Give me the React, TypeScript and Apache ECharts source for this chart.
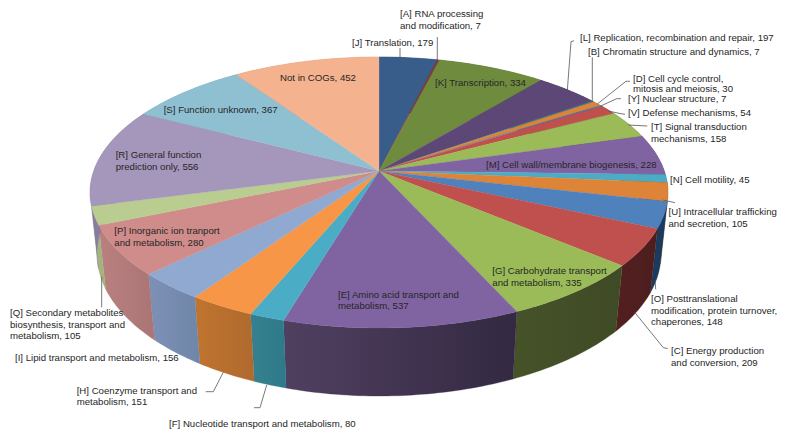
import React, { useEffect, useRef } from "react";
import * as echarts from "echarts";

const categories = [
  "[J] Translation", "[A] RNA processing\nand modification", "[K] Transcription",
  "[L] Replication, recombination and repair", "[B] Chromatin structure and dynamics",
  "[D] Cell cycle control,\nmitosis and meiosis", "[Y] Nuclear structure", "[V] Defense mechanisms",
  "[T] Signal transduction\nmechanisms", "[M] Cell wall/membrane biogenesis", "[N] Cell motility",
  "[U] Intracellular trafficking\nand secretion", "[O] Posttranslational\nmodification, protein turnover,\nchaperones",
  "[C] Energy production\nand conversion", "[G] Carbohydrate transport\nand metabolism",
  "[E] Amino acid transport and\nmetabolism", "[F] Nucleotide transport and metabolism",
  "[H] Coenzyme transport and\nmetabolism", "[I] Lipid transport and metabolism",
  "[P] Inorganic ion tranport\nand metabolism", "[Q] Secondary metabolites\nbiosynthesis, transport and\nmetabolism",
  "[R] General function\nprediction only", "[S] Function unknown", "Not in COGs",
];
const values = [179, 7, 334, 197, 7, 30, 7, 54, 158, 228, 45, 105, 148, 209, 335, 537, 80, 151, 156, 280, 105, 556, 367, 452];

const topColors = [
  "#385d8a", "#8c3836", "#6f8b3e", "#5c4776", "#357e92", "#d9843b", "#4f81bd", "#c0504d",
  "#9bbb59", "#8064a2", "#4bacc6", "#dd8439", "#4f81bd", "#c0504d", "#9bbb59", "#8064a2",
  "#4bacc6", "#f79646", "#8fa9d0", "#cf8c8a", "#b9cd91", "#a596bb", "#8fc0d2", "#f5b28f",
];
// Side-wall shading: left colour, right colour.
const wallColors = [
  ["#24405f", "#24405f"], ["#5e2524", "#5e2524"], ["#4a5d29", "#4a5d29"], ["#3d2f4f", "#3d2f4f"],
  ["#235462", "#235462"], ["#915827", "#915827"], ["#2c4d75", "#2c4d75"], ["#772c2a", "#772c2a"],
  ["#5f7530", "#5f7530"], ["#4d3b62", "#4d3b62"], ["#276a7c", "#276a7c"], ["#8a5020", "#8a5020"],
  ["#1b3a5d", "#1b3a5d"], ["#531f1f", "#4d1e1e"], ["#465329", "#3f4a26"], ["#504060", "#332942"],
  ["#35818f", "#2f7a8a"], ["#c0742f", "#b06a2e"], ["#7d91b6", "#6f86a8"], ["#ba8080", "#ab7575"],
  ["#a5b47f", "#a2b37d"], ["#8a7ba0", "#8a7ba0"], ["#6fa0b2", "#6fa0b2"], ["#d0906e", "#d0906e"],
];

const labelLayout: [number, number, number?][] = [
  [352, 42.5], [400, 14], [435, 83], [580, 38], [588, 52], [633, 78.7, 10], [628, 99], [628, 112.7],
  [651, 126.7], [486, 164.7], [670, 180], [668.5, 212], [651, 298.7], [671, 351], [492.3, 270.7],
  [338, 294.3], [169, 423.3], [76.7, 390.3], [15, 358], [114.3, 231], [10, 313], [115.7, 155], [163.7, 109.7], [280, 77.7],
];

const leaders: number[][][] = [
  [[400, 48], [400, 58]],
  [[437.3, 37], [437.3, 60.7]],
  [[574, 40.7], [571, 41.7], [567.3, 90.7]],
  [[592.3, 57.3], [592.3, 101.7]],
  [[630, 81.3], [626, 81.3], [597.3, 104]],
  [[621, 98.7], [616.7, 98.7], [600.7, 106]],
  [[625, 114.3], [620, 113.5], [608.3, 111]],
  [[647.3, 126], [628.3, 125]],
  [[663, 200], [675, 202.7]],
  [[655, 280], [655.7, 289.3]],
  [[635, 312.7], [663.3, 347.7], [667.7, 348.5]],
  [[266.7, 385], [260, 407.7], [254, 407.7]],
  [[223.3, 372.3], [213.3, 391.7], [205.7, 391.7]],
  [[101.7, 276.7], [101.7, 307.3]],
];

const CX = 379, CY = 171, R = 285.3, K = 132.1, P = 0.1587, Q = 0.024, H = 62.6;
const total = values.reduce((a, b) => a + b, 0);
const cumulative = values.reduce<number[]>((acc, v) => { acc.push(acc[acc.length - 1] + v); return acc; }, [0]);

function project(theta: number, depth: number): number[] {
  const u = Math.sin(theta), v = -Math.cos(theta);
  const w = 1 - P * v + Q * depth;
  return [CX + (R * u) / w, CY + (K * v + H * depth) / w];
}
function arcPoints(a0: number, a1: number, depth: number): number[][] {
  const n = Math.max(2, Math.ceil(((a1 - a0) / (Math.PI * 2)) * 360));
  const out: number[][] = [];
  for (let i = 0; i <= n; i++) out.push(project(a0 + ((a1 - a0) * i) / n, depth));
  return out;
}
const angleOf = (i: number) => [(cumulative[i] / total) * Math.PI * 2, (cumulative[i + 1] / total) * Math.PI * 2];

const seriesData = values.map((v, i) => [i, v]);

export default function App() {
  const ref = useRef<HTMLDivElement>(null);
  useEffect(() => {
    const chart = echarts.init(ref.current!, undefined, { renderer: "svg" });
    const graphic: any[] = [];
    leaders.forEach((pts) => graphic.push({
      type: "polyline", silent: true, z: 10,
      shape: { points: pts }, style: { stroke: "#555", lineWidth: 0.8, fill: "none" },
    }));
    categories.forEach((c, i) => {
      const [x, y, lh] = labelLayout[i];
      const lineHeight = lh ?? 11.4;
      graphic.push({
        type: "text", silent: true, z: 11, x, y: y - lineHeight / 2,
        style: {
          text: `${c}, ${values[i]}`, fill: "#262626", lineHeight,
          font: '9.65px "Liberation Sans", Arial, sans-serif', textAlign: "left", textVerticalAlign: "top",
        },
      });
    });
    chart.setOption({
      animation: false,
      backgroundColor: "#fff",
      graphic,
      series: [
        {
          type: "custom", coordinateSystem: "none", z: 1, silent: true, data: seriesData,
          renderItem: (_p: any, api: any) => {
            const i = api.value(0);
            const [a0, a1] = angleOf(i);
            const top = arcPoints(a0, a1, 0), bottom = arcPoints(a0, a1, 1).reverse();
            // The front of the pie runs right to left, so the gradient's left colour is the x=0 stop.
            const [left, right] = wallColors[i];
            const fill = {
              type: "linear", x: 0, y: 0, x2: 1, y2: 0,
              colorStops: [{ offset: 0, color: left }, { offset: 1, color: right }],
            };
            return { type: "polygon", shape: { points: top.concat(bottom) }, style: { fill, stroke: right, lineWidth: 0.3 } };
          },
        },
        {
          type: "custom", coordinateSystem: "none", z: 2, silent: true, data: seriesData,
          renderItem: (_p: any, api: any) => {
            const i = api.value(0);
            const [a0, a1] = angleOf(i);
            const pts = [[CX, CY], ...arcPoints(a0, a1, 0)];
            return { type: "polygon", shape: { points: pts }, style: { fill: topColors[i], stroke: topColors[i], lineWidth: 0.3 } };
          },
        },
      ],
    });
    return () => chart.dispose();
  }, []);
  return <div ref={ref} style={{ position: "fixed", left: 0, top: 0, width: 788, height: 438 }} />;
}
